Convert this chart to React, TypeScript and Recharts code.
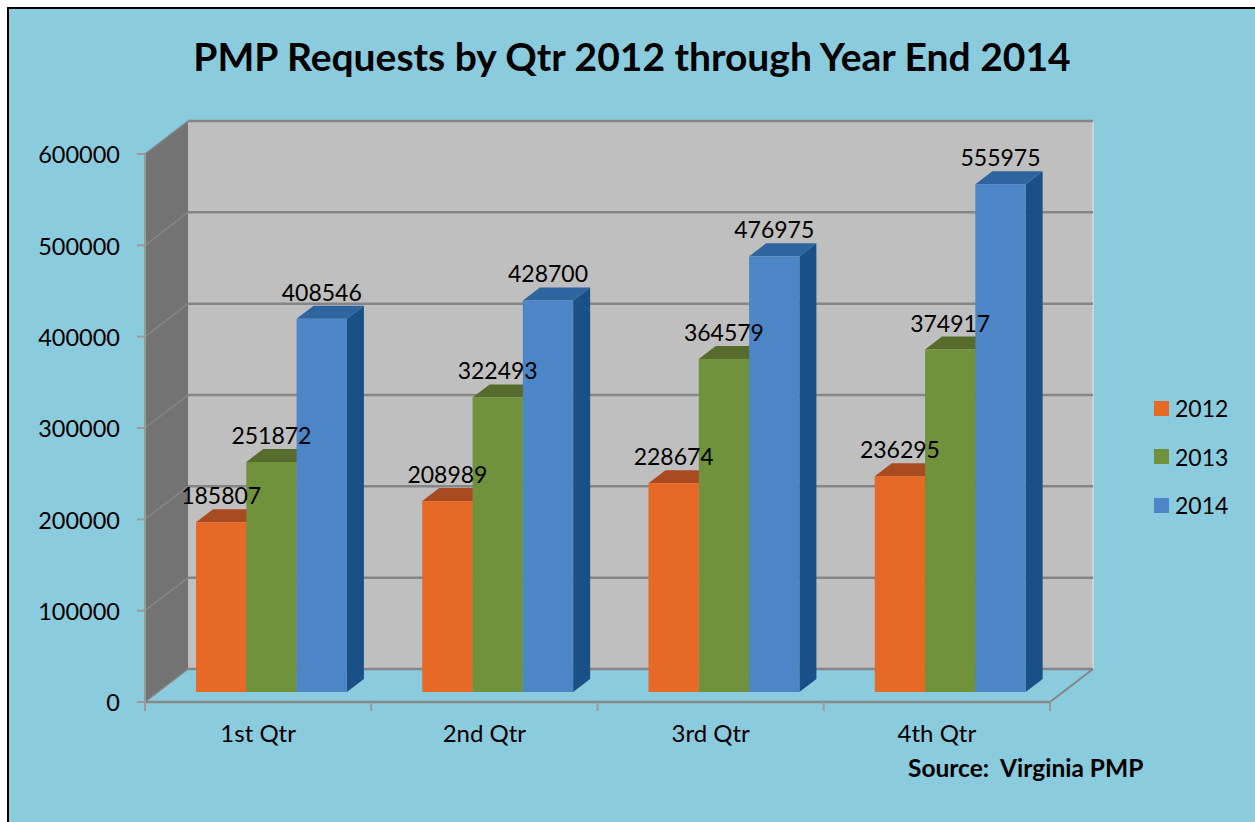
import {
  Bar,
  BarChart,
  CartesianGrid,
  LabelList,
  Legend,
  XAxis,
  YAxis,
} from "recharts";

const quarters = ["1st Qtr", "2nd Qtr", "3rd Qtr", "4th Qtr"];
const values2012 = [185807, 208989, 228674, 236295];
const values2013 = [251872, 322493, 364579, 374917];
const values2014 = [408546, 428700, 476975, 555975];
const yTicks = [0, 100000, 200000, 300000, 400000, 500000, 600000];

const rows = quarters.map((quarter, i) => ({
  quarter,
  "2012": values2012[i],
  "2013": values2013[i],
  "2014": values2014[i],
}));

const FONT = "Lato, sans-serif";
const WALL_DX = 43;
const WALL_DY = -33;
const BAR_DX = 13;
const BAR_DY = -10;
const DEPTH_X = 17;
const DEPTH_Y = -13;
const BAND = 226.25;
const LINE = "#868686";

const topColors: Record<string, string> = {
  "2012": "#a94b20",
  "2013": "#566b2c",
  "2014": "#2f659f",
};
const sideColors: Record<string, string> = {
  "2012": "#a94b20",
  "2013": "#4e6328",
  "2014": "#1b5087",
};

const poly = (pts: number[][]) => pts.map((p) => p.join(",")).join(" ");

// front face, top and right side of one bar
const Bar3D = (props: any) => {
  const { x, y, width, height, fill, dataKey } = props;
  const left = x + BAR_DX;
  const right = left + width;
  const top = y + BAR_DY;
  const bottom = top + height;
  return (
    <g>
      <polygon
        fill={sideColors[dataKey]}
        points={poly([
          [right, top],
          [right + DEPTH_X, top + DEPTH_Y],
          [right + DEPTH_X, bottom + DEPTH_Y],
          [right, bottom],
        ])}
      />
      <polygon
        fill={topColors[dataKey]}
        points={poly([
          [left, top],
          [left + DEPTH_X, top + DEPTH_Y],
          [right + DEPTH_X, top + DEPTH_Y],
          [right, top],
        ])}
      />
      <rect x={left} y={top} width={width} height={height} fill={fill} />
    </g>
  );
};

const Walls = ({ x, y, width, height }: any) => {
  const right = x + width;
  const bottom = y + height;
  return (
    <g>
      <polygon
        fill="#737373"
        points={poly([
          [x, y],
          [x + WALL_DX, y + WALL_DY],
          [x + WALL_DX, bottom + WALL_DY],
          [x, bottom],
        ])}
      />
      <rect
        x={x + WALL_DX}
        y={y + WALL_DY}
        width={width}
        height={height}
        fill="#bfbfbf"
      />
      <line
        x1={right + WALL_DX}
        x2={right + WALL_DX}
        y1={y + WALL_DY}
        y2={bottom + WALL_DY}
        stroke="#d9d9d9"
        strokeWidth={1.5}
      />
      <line
        x1={right}
        x2={right + WALL_DX}
        y1={bottom}
        y2={bottom + WALL_DY}
        stroke={LINE}
        strokeWidth={2}
      />
    </g>
  );
};

// the grid draws first, so its first line also lays down the walls behind the rest
const GridLine = (props: any) => {
  const { x1, x2, y1, index, x, y, width, height } = props;
  return (
    <g>
      {index === 0 && <Walls x={x} y={y} width={width} height={height} />}
      <line
        x1={x1}
        x2={x1 + WALL_DX}
        y1={y1}
        y2={y1 + WALL_DY}
        stroke={LINE}
        strokeWidth={1.5}
      />
      <line
        x1={x1 + WALL_DX}
        x2={x2 + WALL_DX}
        y1={y1 + WALL_DY}
        y2={y1 + WALL_DY}
        stroke={LINE}
        strokeWidth={2.5}
      />
    </g>
  );
};

const QuarterTick = (props: any) => {
  const { x, y, payload, index } = props;
  return (
    <g>
      {index === 0 && (
        <line
          x1={x - BAND / 2}
          x2={x - BAND / 2}
          y1={y - 8}
          y2={y + 1}
          stroke="#999999"
          strokeWidth={2}
        />
      )}
      <line
        x1={x + BAND / 2}
        x2={x + BAND / 2}
        y1={y - 8}
        y2={y + 1}
        stroke="#999999"
        strokeWidth={2}
      />
      <text
        x={x}
        y={y + 32}
        textAnchor="middle"
        fontFamily={FONT}
        fontSize={24}
        fill="#000000"
      >
        {payload.value}
      </text>
    </g>
  );
};

const ValueLabel = (props: any) => {
  const { x, y, width, value } = props;
  return (
    <text
      x={x + BAR_DX + width / 2}
      y={y + BAR_DY - 18}
      textAnchor="middle"
      fontFamily={FONT}
      fontSize={23}
      fill="#000000"
    >
      {value}
    </text>
  );
};

const LegendList = ({ payload }: any) => (
  <div>
    {(payload || []).map((item: any) => (
      <div
        key={item.value}
        style={{
          display: "flex",
          alignItems: "center",
          height: 48.5,
          fontFamily: FONT,
          fontSize: 23,
          color: "#000000",
        }}
      >
        <span
          style={{
            width: 15,
            height: 15,
            marginRight: 6,
            background: item.color,
          }}
        />
        {item.value}
      </div>
    ))}
  </div>
);

const App = () => {
  return (
    <div
      style={{
        position: "absolute",
        left: 0,
        top: 0,
        width: 1255,
        height: 822,
        overflow: "hidden",
        background: "#ffffff",
      }}
    >
      <div
        style={{
          position: "absolute",
          left: 7,
          top: 7,
          width: 1248,
          height: 815,
          boxSizing: "border-box",
          borderLeft: "2px solid #000000",
          borderTop: "2px solid #000000",
          background: "#8bcbde",
        }}
      />
      <div
        style={{
          position: "absolute",
          left: 0,
          top: 31,
          width: 1264,
          textAlign: "center",
          fontFamily: FONT,
          fontWeight: 700,
          fontSize: 39,
          lineHeight: "50px",
          color: "#000000",
        }}
      >
        PMP Requests by Qtr 2012 through Year End 2014
      </div>
      <div style={{ position: "absolute", left: 0, top: 0 }}>
        <BarChart
          width={1255}
          height={822}
          data={rows}
          barSize={50.3}
          barGap={0}
          margin={{ top: 154, right: 105, bottom: 80, left: 55 }}
        >
          <CartesianGrid vertical={false} horizontal={GridLine} />
          <XAxis
            dataKey="quarter"
            height={40}
            axisLine={{ stroke: LINE, strokeWidth: 2.5 }}
            tickLine={false}
            tick={QuarterTick}
            interval={0}
          />
          <YAxis
            width={90}
            domain={[0, 600000]}
            ticks={yTicks}
            interval={0}
            axisLine={{ stroke: "#999999", strokeWidth: 2 }}
            tickLine={{ stroke: "#999999", strokeWidth: 2 }}
            tickSize={8}
            tickMargin={17}
            tick={{ fontFamily: FONT, fontSize: 23.5, fill: "#000000", dy: 1 }}
          />
          <Legend
            layout="vertical"
            align="right"
            verticalAlign="top"
            width={100}
            content={LegendList}
            wrapperStyle={{ left: 1154, top: 384 }}
          />
          <Bar dataKey="2012" fill="#e66a25" shape={Bar3D} isAnimationActive={false}>
            <LabelList dataKey="2012" content={ValueLabel} />
          </Bar>
          <Bar dataKey="2013" fill="#70923c" shape={Bar3D} isAnimationActive={false}>
            <LabelList dataKey="2013" content={ValueLabel} />
          </Bar>
          <Bar dataKey="2014" fill="#4c86c6" shape={Bar3D} isAnimationActive={false}>
            <LabelList dataKey="2014" content={ValueLabel} />
          </Bar>
        </BarChart>
      </div>
      <div
        style={{
          position: "absolute",
          left: 908,
          top: 753,
          fontFamily: FONT,
          fontWeight: 700,
          fontSize: 24.5,
          lineHeight: "30px",
          whiteSpace: "pre",
          color: "#000000",
        }}
      >
        {"Source:  Virginia PMP"}
      </div>
    </div>
  );
};

export default App;
